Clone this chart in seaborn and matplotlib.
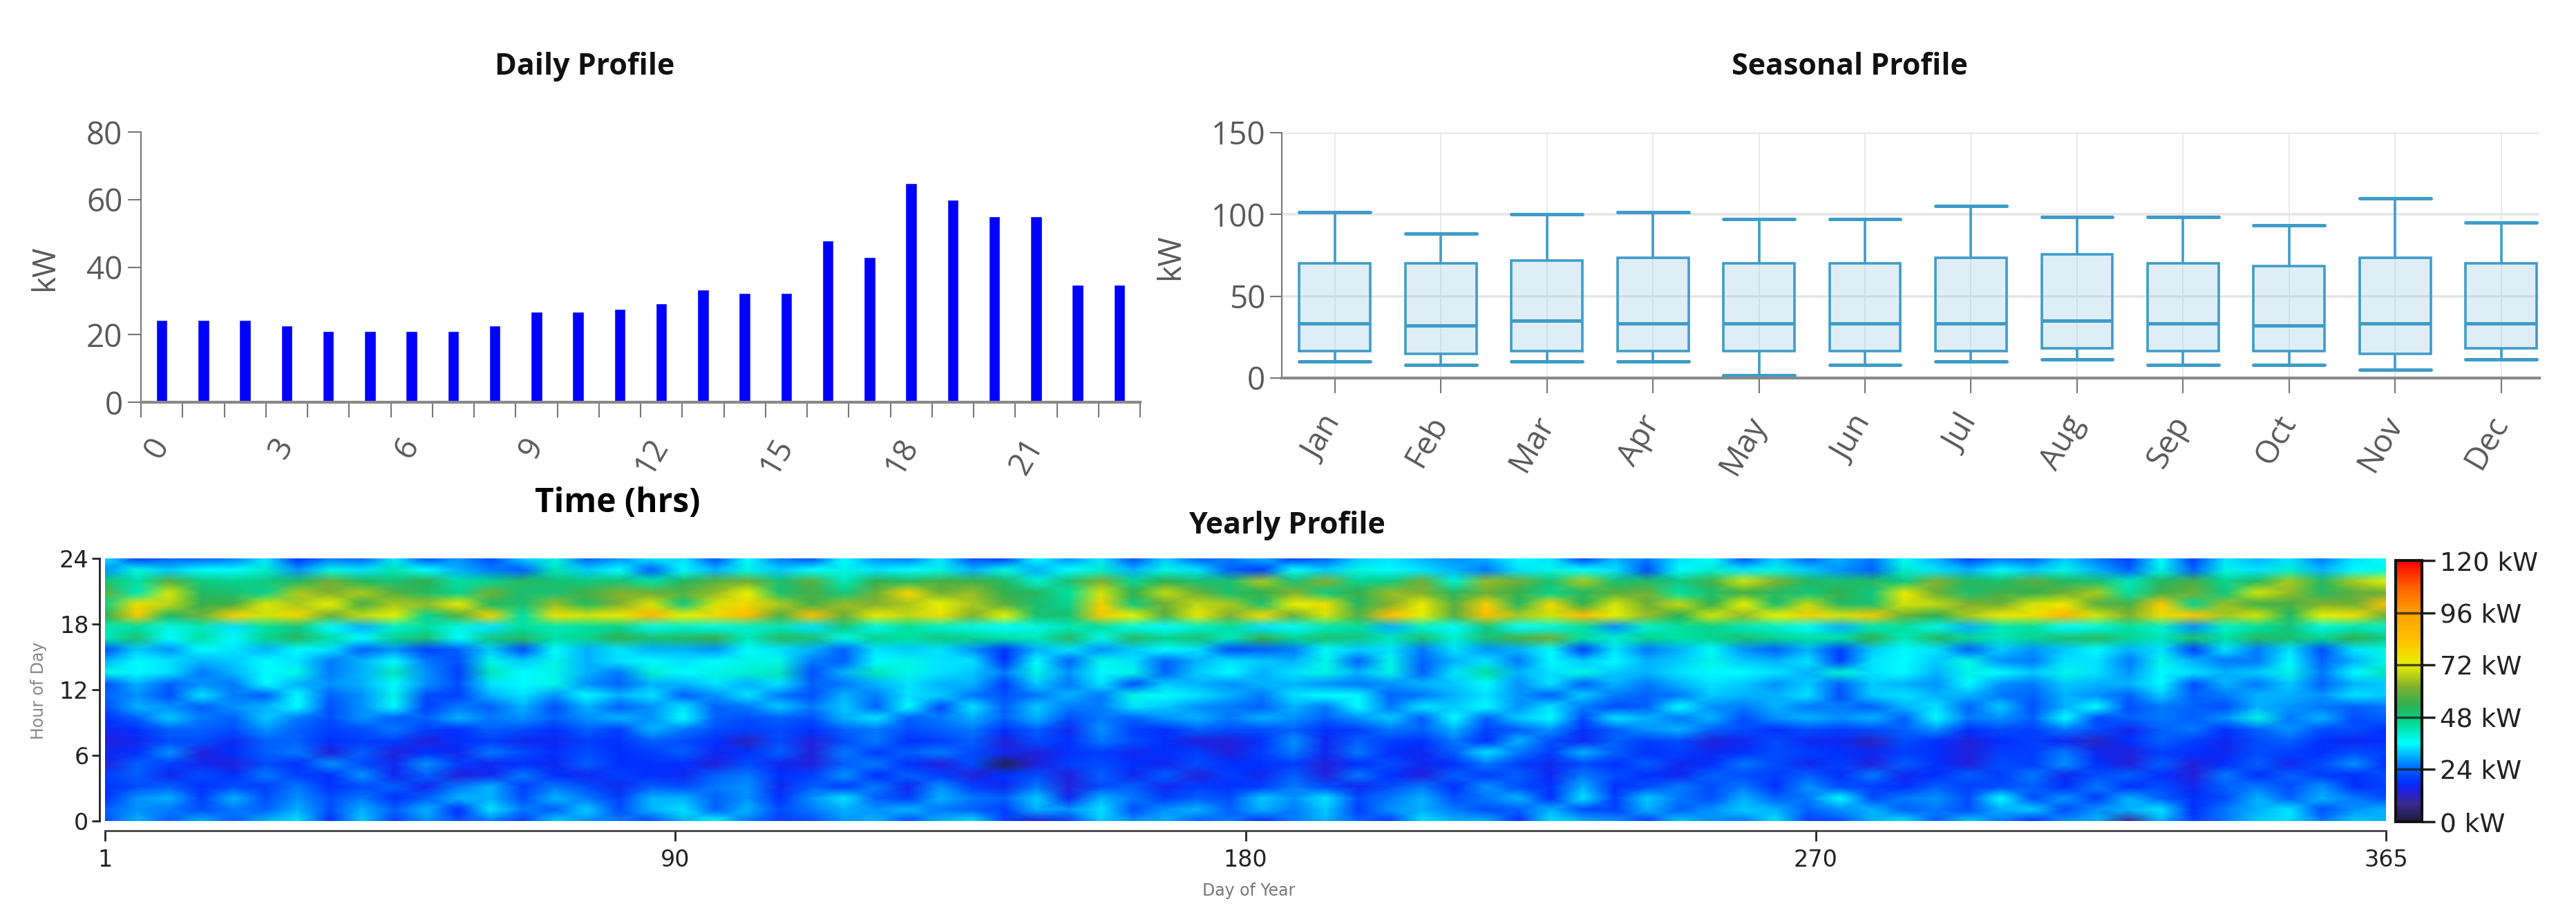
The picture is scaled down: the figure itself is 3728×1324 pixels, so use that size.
import numpy as np
import pandas as pd
import matplotlib
matplotlib.use('Agg')
import matplotlib.pyplot as plt
from matplotlib.colors import LinearSegmentedColormap
import seaborn as sns

# ---- daily profile ----
hours = list(range(24))
daily_kw = [24.4, 24.4, 24.4, 22.8, 21.1, 21.1, 21.1, 21.1, 22.8, 26.8, 26.8, 27.6,
            29.3, 33.3, 32.4, 32.4, 47.8, 42.9, 64.8, 59.9, 55.0, 55.0, 34.8, 34.8]
daily_ticks = [0, 3, 6, 9, 12, 15, 18, 21]

# ---- seasonal profile ----
months = ['Jan', 'Feb', 'Mar', 'Apr', 'May', 'Jun', 'Jul', 'Aug', 'Sep', 'Oct', 'Nov', 'Dec']
whisker_low = [10, 8, 10, 10, 1.5, 8, 10, 11.5, 8, 8, 5, 11.5]
quartile_1 = [16.6, 15, 16.6, 16.6, 16.6, 16.6, 16.6, 18, 16.6, 16.6, 15, 18]
medians = [33.5, 32, 35, 33.5, 33.5, 33.5, 33.5, 35, 33.5, 32, 33.5, 33.5]
quartile_3 = [70, 70, 72, 73.5, 70, 70, 73.5, 75.5, 70, 68.5, 73.5, 70]
whisker_high = [101.5, 88.5, 100, 101.5, 97, 97, 105, 98.5, 98.5, 93.5, 110, 95]

# ---- yearly profile, kW read by eye, rows from hour 23 down to hour 0 ----
yearly_kw = [
    [34,20,24,24,26,34,18,26,24,34,22,28,22,32,38,24,28,34, 34,22,36,26,22,36,28,26,34,22,20,36,28,34,22,32,24,26,
     30,20,24,32,34,30,28,30,36,34,20,30,26,34,36,22,32,24, 30,26,36,30,20,26,24,32,26,20,36,20,34,30,34,26,34,36],
    [28,38,32,36,36,40,28,38,34,42,36,30,26,24,42,32,36,24, 36,30,38,32,36,38,34,36,38,30,38,30,36,40,30,38,34,24,
     20,36,32,38,36,34,30,26,34,38,36,34,22,36,40,34,38,32, 28,24,40,34,30,36,32,38,30,24,38,24,38,34,40,30,36,38],
    [50,44,58,48,46,48,52,60,52,50,54,44,46,52,50,48,50,44, 52,58,60,50,58,42,54,52,56,56,52,40,50,62,46,54,50,50,
     66,50,62,46,48,60,40,64,60,50,66,50,52,48,56,70,62,52, 50,52,48,62,52,50,58,52,50,42,52,56,46,52,66,52,66,72],
    [58,42,70,52,50,46,66,62,66,58,52,46,60,50,50,56,62,60, 58,64,72,50,56,48,60,78,60,64,54,52,44,70,54,68,60,50,
     54,62,48,54,64,62,52,60,54,46,52,58,60,44,50,56,52,48, 54,48,74,60,50,56,54,60,66,44,56,60,48,70,64,52,58,60],
    [46,76,68,54,56,70,66,72,56,66,64,74,52,50,64,52,62,70, 48,70,78,66,56,64,62,66,72,66,58,50,46,80,48,60,68,66,
     50,72,76,52,62,74,58,80,52,78,54,70,60,68,54,72,50,68, 52,50,70,68,62,60,70,74,58,56,82,46,64,56,56,62,60,84],
    [54,82,52,60,80,70,78,60,68,72,46,58,80,44,76,70,74,88, 72,78,86,58,84,60,74,68,76,62,72,50,50,82,72,58,74,62,
     78,60,70,58,84,72,58,84,66,70,86,72,64,54,70,64,72,80, 70,82,60,54,66,74,76,88,70,62,76,82,66,70,52,72,76,60],
    [42,44,38,42,34,44,48,36,30,40,44,38,34,44,42,44,46,38, 40,38,40,42,34,48,38,44,40,38,36,38,42,44,38,36,40,44,
     34,36,42,44,30,40,36,48,36,38,44,28,40,44,46,42,40,36, 30,42,44,38,30,42,44,36,38,44,40,28,40,44,48,38,42,40],
    [42,50,36,44,36,46,52,44,36,46,50,36,48,52,44,46,54,50, 52,54,42,52,50,38,46,44,48,46,44,42,52,38,52,46,50,42,
     54,46,50,48,42,50,40,50,56,60,44,40,46,44,46,50,46,44, 44,54,42,52,46,42,46,50,52,46,42,50,44,52,50,46,54,48],
    [22,32,28,36,34,30,36,34,24,28,20,24,32,22,36,30,34,30, 30,28,36,34,30,24,34,32,34,28,18,30,34,28,32,36,34,22,
     24,26,36,32,34,26,34,28,30,36,20,34,26,30,36,28,24,30, 20,32,36,34,24,32,28,32,36,30,34,20,34,26,34,22,34,38],
    [30,36,34,30,32,36,34,26,30,36,26,22,38,32,38,30,34,36, 34,36,38,38,26,24,36,38,34,34,18,36,24,38,34,24,30,34,
     32,30,38,24,38,24,30,34,26,36,32,36,30,32,38,32,30,34, 20,34,36,32,38,28,26,34,34,26,38,30,26,26,36,24,30,38],
    [38,36,34,26,30,36,38,26,30,42,28,20,42,36,38,30,26,40, 36,38,40,42,22,30,42,38,34,32,26,38,28,36,38,24,32,36,
     30,34,38,30,38,24,34,44,30,34,38,32,30,34,36,36,34,30, 40,34,36,30,38,36,32,38,34,28,36,34,30,32,38,26,36,42],
    [22,30,24,28,26,36,30,28,30,36,28,22,34,36,38,28,24,30, 30,34,30,34,24,26,30,34,30,30,20,32,26,34,22,32,30,28,
     30,30,28,26,28,30,32,36,28,34,24,30,26,30,34,32,28,32, 24,32,30,28,36,28,26,32,30,30,36,22,30,26,32,24,30,32],
    [24,28,22,34,26,24,36,24,28,38,22,20,30,34,28,36,30,34, 24,28,34,26,22,30,26,34,32,26,22,26,30,26,38,36,34,30,
     26,34,36,36,24,26,30,34,28,24,32,26,24,26,32,30,30,34, 22,32,34,30,30,26,24,30,28,24,32,24,26,30,30,28,34,32],
    [22,30,28,24,28,30,36,22,28,36,20,26,24,30,22,30,24,28, 34,24,26,32,26,32,24,36,22,34,24,32,26,26,34,32,28,26,
     24,30,26,36,26,34,32,36,28,34,26,22,24,36,28,26,30,26, 26,24,30,34,24,32,22,30,36,22,26,24,22,30,28,26,24,26],
    [18,24,32,26,24,32,26,22,28,24,24,30,26,28,24,28,30,28, 36,24,22,24,22,30,34,24,26,30,24,30,22,26,24,28,30,26,
     30,28,24,28,32,24,36,24,32,36,22,34,30,26,30,22,28,30, 28,30,24,36,26,28,24,36,22,24,26,24,28,38,26,30,22,24],
    [16,18,24,24,22,28,24,20,22,26,20,18,24,22,18,24,20,30, 26,22,20,22,18,24,26,22,24,26,18,24,16,28,20,18,24,22,
     22,24,18,20,26,24,30,20,24,28,18,24,28,30,24,22,18,22, 20,22,24,28,18,22,20,26,22,16,24,26,18,24,28,22,22,18],
    [14,16,22,22,16,24,24,18,20,20,14,18,20,16,16,20,18,24, 22,18,12,22,14,22,26,18,20,24,14,22,18,26,22,18,14,14,
     18,28,16,24,20,18,26,18,30,22,16,24,20,22,14,16,22,16, 16,12,22,18,14,18,20,16,12,18,24,20,16,22,24,18,16,18],
    [16,18,28,14,18,24,26,14,24,14,18,16,26,22,18,22,18,20, 24,16,18,24,14,26,20,24,26,22,16,14,18,20,16,18,20,14,
     20,26,16,26,18,16,24,34,26,20,30,24,18,20,16,18,22,20, 18,16,20,18,14,20,20,26,16,14,20,18,16,22,20,18,22,20],
    [14,24,20,16,14,22,18,28,22,16,28,20,16,18,16,24,18,18, 18,14,22,16,14,24,26,18,14,22,3,14,20,22,18,16,22,18,
     18,20,14,18,22,16,18,26,20,16,22,18,24,16,18,26,22,16, 20,14,24,18,14,22,20,28,18,14,24,14,18,24,16,22,28,18],
    [20,24,16,22,18,26,20,18,28,16,24,14,16,26,18,16,20,18, 16,24,26,18,20,28,18,24,20,14,18,22,14,24,16,24,14,20,
     16,24,14,26,18,14,24,20,24,16,26,22,18,16,24,22,20,24, 18,26,16,18,24,20,26,16,22,24,18,14,26,18,24,20,18,22],
    [18,22,24,18,22,20,26,18,22,24,16,26,30,20,26,22,16,24, 22,26,28,16,24,20,26,16,28,20,16,26,14,22,24,16,20,18,
     20,26,22,16,22,26,18,28,22,18,30,18,22,26,22,26,18,28, 22,20,18,24,20,22,24,18,26,18,22,16,24,26,22,28,18,20],
    [18,28,30,20,30,22,28,22,26,18,24,30,30,22,30,26,20,30, 30,24,28,18,28,34,24,20,30,26,24,32,16,30,26,20,24,22,
     32,28,34,22,26,30,22,26,30,18,34,20,32,26,22,30,24,26, 36,22,26,28,22,36,22,28,20,30,24,18,22,30,24,30,26,22],
    [24,28,26,22,26,24,30,22,30,24,30,18,34,26,24,32,22,30, 34,24,30,22,26,30,28,30,26,24,20,30,28,34,22,28,30,24,
     30,26,32,20,28,30,26,22,24,30,22,20,30,24,28,32,30,24, 28,30,24,26,22,30,32,22,28,30,34,18,26,30,34,22,28,30],
    [22,30,24,30,24,30,34,18,32,20,28,22,26,20,32,28,26,22, 30,36,26,20,22,28,30,22,30,34,20,14,20,32,28,30,24,26,
     18,26,30,24,20,34,30,30,18,34,30,28,20,32,28,26,34,20, 22,30,34,24,32,26,18,28,30,8,30,20,26,32,34,26,32,30],
]

# ---- value -> colour ----
colour_stops = [0, 8, 14, 18, 24, 30, 36, 44, 48, 54, 62, 72, 84, 96, 108, 120]
colour_hex = ['#1a1a3a', '#3a2a90', '#2020e0', '#0030ff', '#0060ff', '#00b0ff', '#00ffff', '#00e0a0',
              '#10c880', '#30b050', '#80b030', '#e8f000', '#ffc000', '#ffa000', '#ff6000', '#ff0000']
bar_ticks = [0, 24, 48, 72, 96, 120]
hour_ticks = [0, 6, 12, 18, 24]
day_tick_pos = [1, 92, 183, 274, 365]
day_tick_labels = ['1', '90', '180', '270', '365']

W, H = 3728, 1324


def rect(left, top, right, bottom):
    # pixel box in the image -> figure fraction
    return [left / W, 1 - bottom / H, (right - left) / W, (bottom - top) / H]


sns.set_theme(style='white')
plt.rcParams['font.family'] = ['Open Sans', 'DejaVu Sans']
grey = '#595959'
fig = plt.figure(figsize=(W / 100, H / 100), dpi=100)

# ============================================
# DAILY PROFILE
# ============================================
ax1 = fig.add_axes(rect(204, 191, 1650, 582))
df_daily = pd.DataFrame({'hour': hours, 'kw': daily_kw})
sns.barplot(data=df_daily, x='hour', y='kw', color='#0000ff', saturation=1, width=0.27, ax=ax1)
ax1.set_xlim(-0.5, 23.5)
ax1.set_ylim(0, 80)
ax1.set_yticks([0, 20, 40, 60, 80])
ax1.set_xticks(daily_ticks)
ax1.set_xticklabels([str(h) for h in daily_ticks], rotation=60, ha='right', va='center', rotation_mode='anchor')
ax1.set_xticks(np.arange(-0.5, 24), minor=True)
ax1.tick_params(axis='x', which='major', length=0, pad=40, labelsize=33, colors=grey)
ax1.tick_params(axis='x', which='minor', bottom=True, length=16, width=1.5, color='#777777')
ax1.tick_params(axis='y', left=True, length=14, width=1.5, color='#777777', labelsize=33, labelcolor=grey, pad=5)
ax1.set_xlabel('')
ax1.set_ylabel('')
sns.despine(ax=ax1)
ax1.spines['left'].set_color('#777777')
ax1.spines['left'].set_linewidth(1.5)
ax1.spines['bottom'].set_color('#888888')
ax1.spines['bottom'].set_linewidth(3)

# ============================================
# SEASONAL PROFILE
# ============================================
ax2 = fig.add_axes(rect(1855, 192, 3675, 547))
df_season = pd.DataFrame({
    'month': np.tile(months, 5),
    'kw': np.concatenate([whisker_low, quartile_1, medians, quartile_3, whisker_high]),
})
box_col = '#3f9cc8'
ax2.set_axisbelow(True)
sns.boxplot(data=df_season, x='month', y='kw', order=months, whis=(0, 100), width=0.67,
            color=box_col, linecolor=box_col, linewidth=2.6, showfliers=False, capwidths=0.67,
            boxprops={'facecolor': (0.62, 0.80, 0.89, 0.32)},
            medianprops={'linewidth': 3.6}, capprops={'linewidth': 3.6}, ax=ax2)
ax2.set_xlim(-0.5, 11.36)
ax2.set_ylim(0, 150)
ax2.set_yticks([0, 50, 100, 150])
ax2.set_xticks(range(12))
ax2.set_xticklabels(months, rotation=60, ha='right', va='center', rotation_mode='anchor')
ax2.grid(axis='y', color='#e6e6e6', linewidth=2.6)
ax2.grid(axis='x', color='#e6e6e6', linewidth=1.2)
ax2.tick_params(axis='x', bottom=True, length=16, width=1.5, color='#777777', pad=26, labelsize=33, labelcolor=grey)
ax2.tick_params(axis='y', left=True, length=12, width=1.5, color='#777777', labelsize=33, labelcolor=grey, pad=5)
ax2.set_xlabel('')
ax2.set_ylabel('')
sns.despine(ax=ax2)
ax2.spines['left'].set_color('#777777')
ax2.spines['left'].set_linewidth(1.5)
ax2.spines['bottom'].set_color('#888888')
ax2.spines['bottom'].set_linewidth(3)

# ============================================
# YEARLY PROFILE
# ============================================
ax3 = fig.add_axes(rect(152, 808, 3453, 1188))
stops = [v / 120 for v in colour_stops]
cmap = LinearSegmentedColormap.from_list('load', list(zip(stops, colour_hex)))
yearly = np.array(yearly_kw)
# vertices spread over the whole axis, top row at hour 24
day_grid = np.linspace(1, 365, yearly.shape[1])
hour_grid = np.linspace(24, 0, yearly.shape[0])
im = ax3.pcolormesh(day_grid, hour_grid, yearly, cmap=cmap, vmin=0, vmax=120, shading='gouraud')
ax3.set_xlim(1, 365)
ax3.set_ylim(0, 24)
ax3.set_xticks(day_tick_pos)
ax3.set_xticklabels(day_tick_labels)
ax3.set_yticks(hour_ticks)
ax3.tick_params(axis='both', labelsize=24, labelcolor='#222222', color='#222222', width=2)
ax3.tick_params(axis='x', bottom=True, length=11, pad=8)
ax3.tick_params(axis='y', left=True, length=8, pad=3)
for name in ['top', 'right']:
    ax3.spines[name].set_visible(False)
ax3.spines['left'].set_position(('outward', 6))
ax3.spines['bottom'].set_position(('outward', 10))
ax3.spines['left'].set_color('#222222')
ax3.spines['bottom'].set_color('#444444')
ax3.spines['left'].set_linewidth(2)
ax3.spines['bottom'].set_linewidth(2)
for label in ax3.get_xticklabels() + ax3.get_yticklabels():
    label.set_family('DejaVu Sans')

cax = fig.add_axes(rect(3467, 811, 3505, 1189))
cbar = fig.colorbar(im, cax=cax)
cbar.set_ticks(bar_ticks)
cbar.set_ticklabels([f'{v} kW' for v in bar_ticks])
cbar.ax.tick_params(labelsize=27, length=14, width=2.5, color='#222222', labelcolor='#222222', pad=5)
cbar.outline.set_edgecolor('#111111')
cbar.outline.set_linewidth(3)
for v in bar_ticks[1:-1]:
    cax.axhline(v, color='#222222', linewidth=2.5, alpha=0.8)
for label in cax.get_yticklabels():
    label.set_family('DejaVu Sans')

# ============================================
# FREE TEXT
# ============================================
def px_text(x, y, s, **kw):
    fig.text(x / W, 1 - y / H, s, ha='center', va='center', **kw)


px_text(846, 97, 'Daily Profile', fontsize=31, fontweight='bold', color='#111111')
px_text(2677, 97, 'Seasonal Profile', fontsize=31, fontweight='bold', color='#111111')
px_text(1862, 760, 'Yearly Profile', fontsize=31, fontweight='bold', color='#111111')
px_text(894, 729, 'Time (hrs)', fontsize=34.5, fontweight='bold', color='black')
px_text(65, 388, 'kW', fontsize=33, color=grey, rotation=90)
px_text(1694, 372, 'kW', fontsize=33, color=grey, rotation=90)
px_text(56, 999, 'Hour of Day', fontsize=17, color='#888888', rotation=90, family='DejaVu Sans')
px_text(1807, 1289, 'Day of Year', fontsize=17, color='#777777', family='DejaVu Sans')

fig.savefig('out.png', dpi=100, facecolor='white')
